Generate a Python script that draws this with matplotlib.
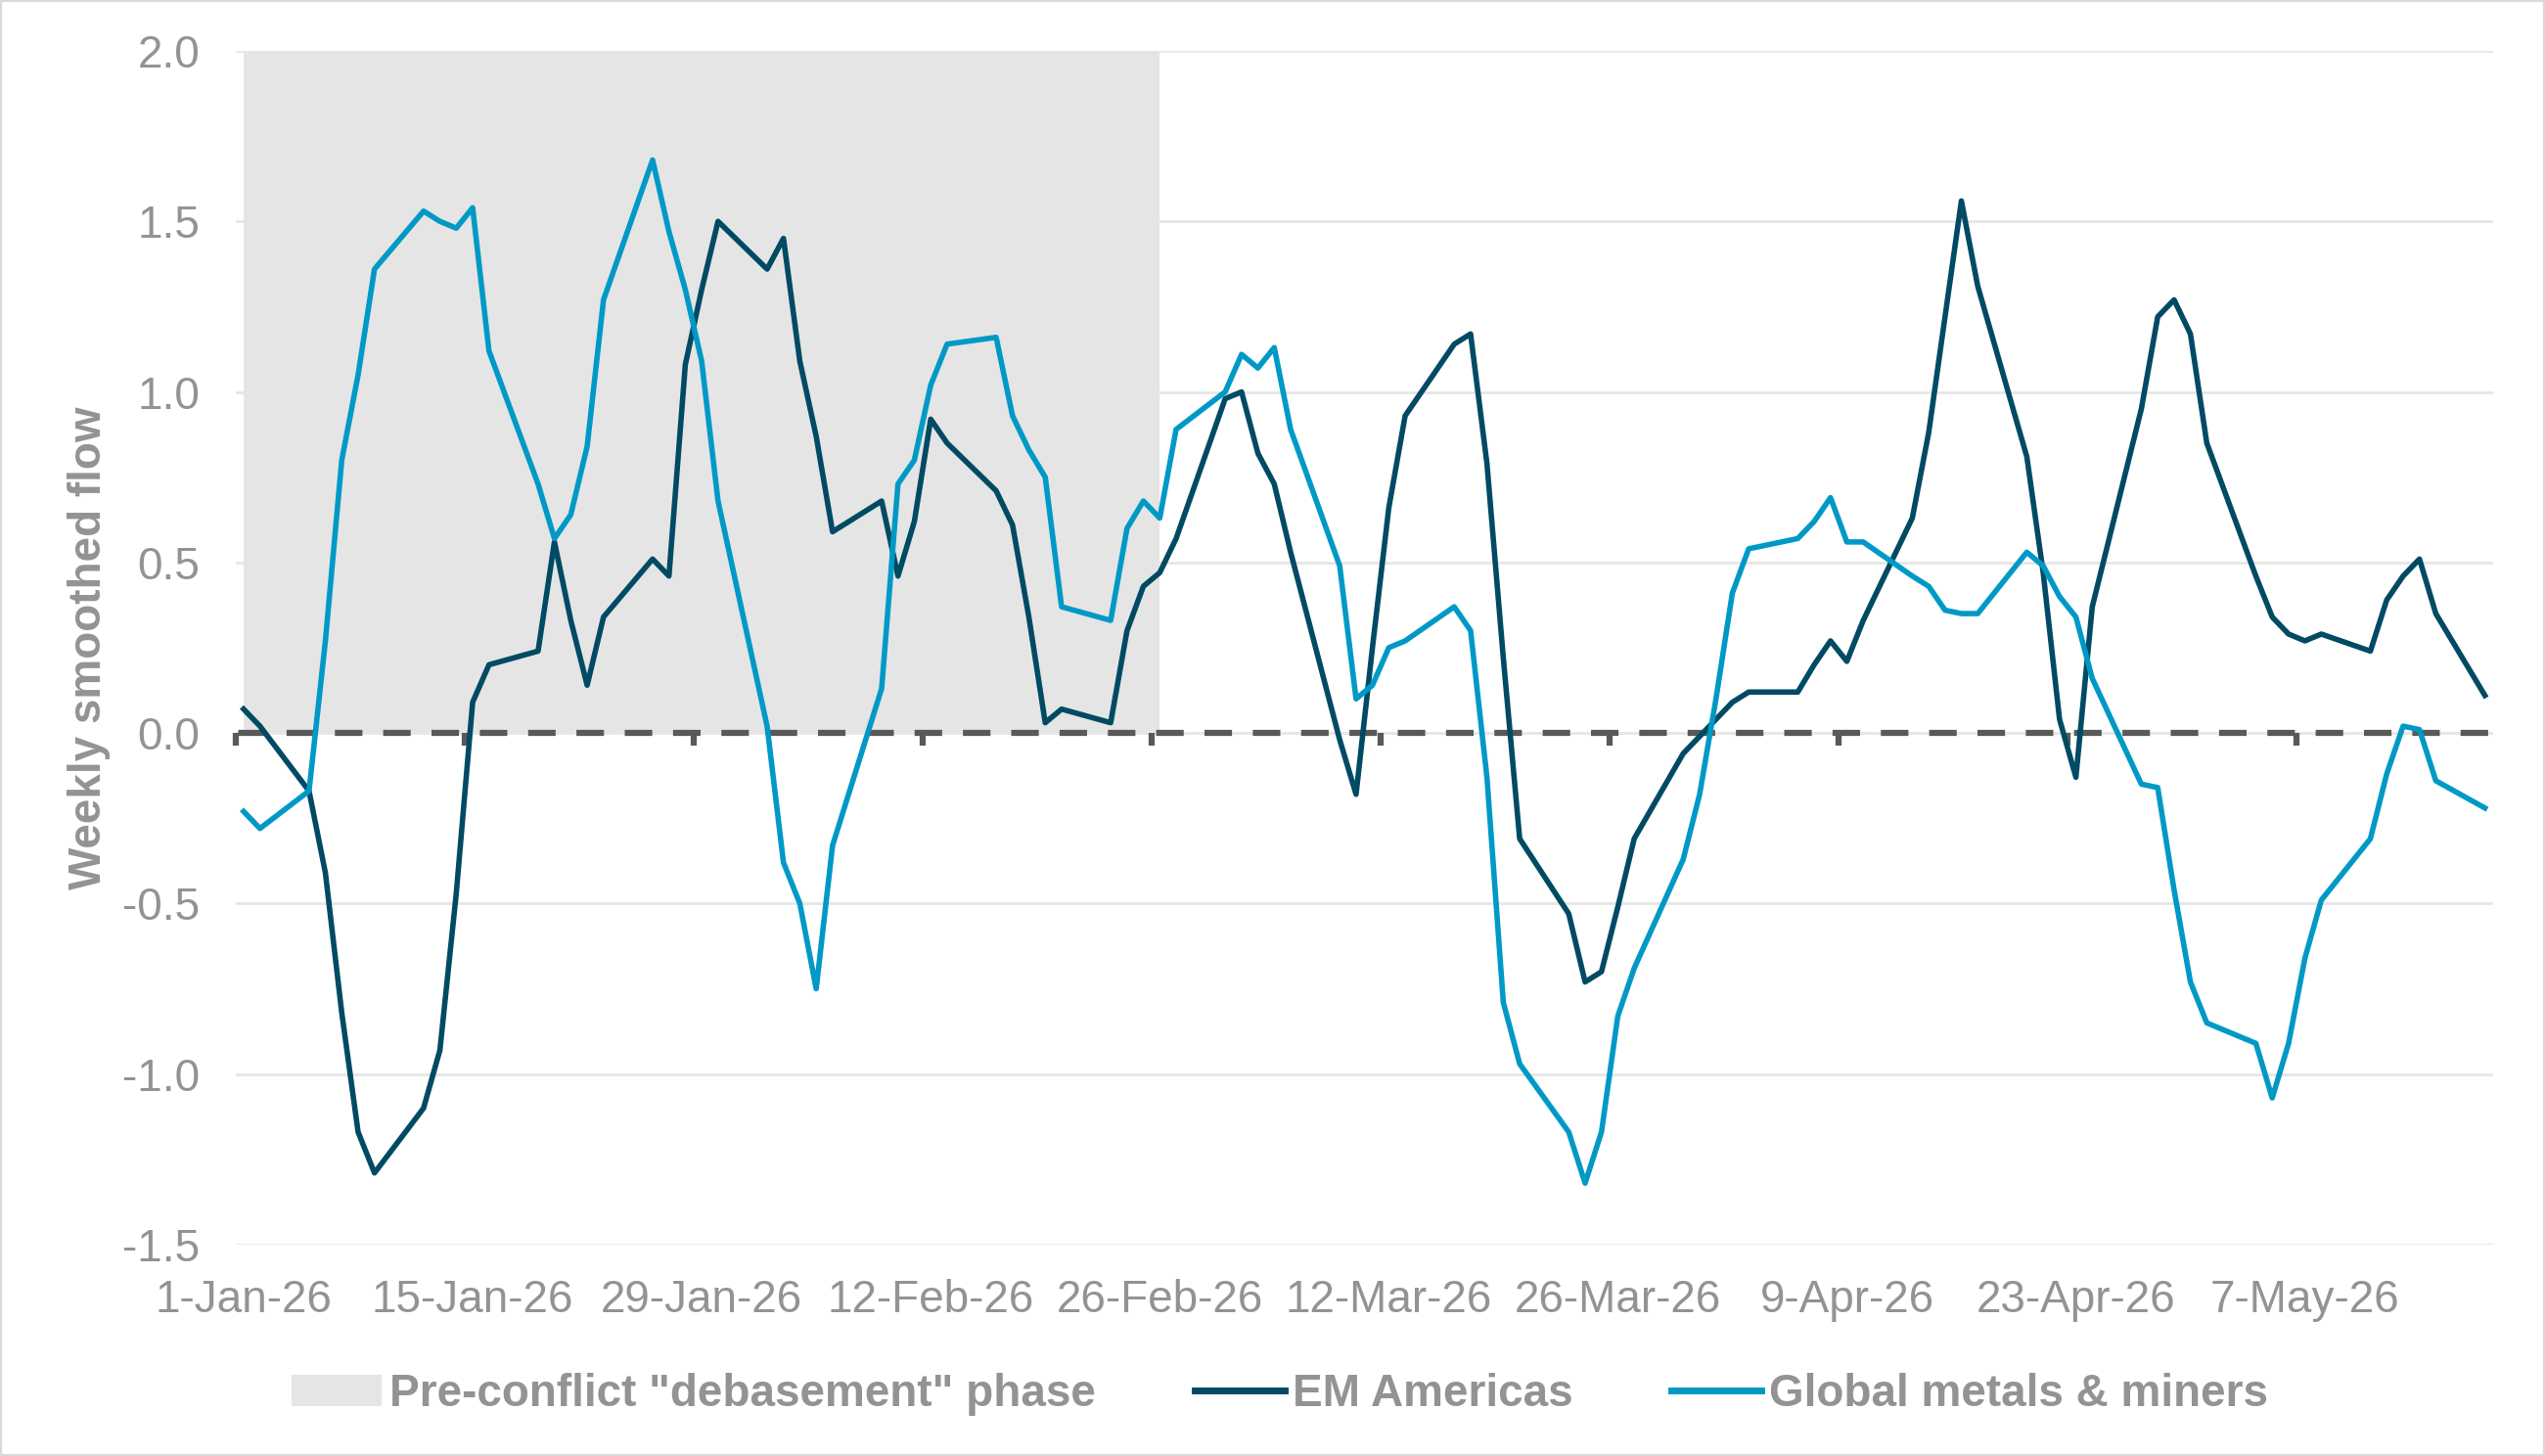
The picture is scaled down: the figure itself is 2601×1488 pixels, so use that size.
import numpy as np
import pandas as pd
import matplotlib
matplotlib.use('Agg')
import matplotlib.pyplot as plt
from matplotlib.patches import Patch, Rectangle
from matplotlib.lines import Line2D

plt.rcParams['font.family'] = ['Liberation Sans', 'DejaVu Sans']
plt.rcParams['axes.unicode_minus'] = False

# business days, 1 Jan - 18 May 2026
dates = pd.bdate_range('2026-01-01', '2026-05-18')

em_americas = [
    # Jan
    0.07, 0.02, -0.17, -0.41, -0.82, -1.17, -1.29, -1.10, -0.93, -0.47, 0.09,
    0.20, 0.24, 0.56, 0.33, 0.14, 0.34, 0.51, 0.46, 1.08, 1.30, 1.50,
    # Feb
    1.36, 1.45, 1.09, 0.87, 0.59, 0.68, 0.46, 0.62, 0.92, 0.85,
    0.71, 0.61, 0.34, 0.03, 0.07, 0.03, 0.30, 0.43, 0.47, 0.57,
    # Mar
    0.98, 1.00, 0.82, 0.73, 0.53, -0.02, -0.18, 0.25, 0.66, 0.93, 1.14,
    1.17, 0.79, 0.22, -0.31, -0.53, -0.73, -0.70, -0.51, -0.31, -0.06, -0.01,
    # Apr
    0.04, 0.09, 0.12, 0.12, 0.20, 0.27, 0.21, 0.33, 0.63, 0.88, 1.22,
    1.56, 1.31, 0.81, 0.47, 0.04, -0.13, 0.37, 0.95, 1.22, 1.27, 1.17,
    # May
    0.85, 0.46, 0.34, 0.29, 0.27, 0.29, 0.24, 0.39, 0.46, 0.51, 0.35, 0.11,
]

metals_miners = [
    # Jan
    -0.23, -0.28, -0.17, 0.27, 0.80, 1.05, 1.36, 1.53, 1.50, 1.48, 1.54,
    1.12, 0.73, 0.57, 0.64, 0.84, 1.27, 1.68, 1.47, 1.30, 1.09, 0.68,
    # Feb
    0.02, -0.38, -0.50, -0.75, -0.33, 0.13, 0.73, 0.80, 1.02, 1.14,
    1.16, 0.93, 0.83, 0.75, 0.37, 0.33, 0.60, 0.68, 0.63, 0.89,
    # Mar
    1.00, 1.11, 1.07, 1.13, 0.89, 0.49, 0.10, 0.14, 0.25, 0.27, 0.37,
    0.30, -0.13, -0.79, -0.97, -1.17, -1.32, -1.17, -0.83, -0.69, -0.37, -0.18,
    # Apr
    0.10, 0.41, 0.54, 0.57, 0.62, 0.69, 0.56, 0.56, 0.46, 0.43, 0.36,
    0.35, 0.35, 0.53, 0.49, 0.40, 0.34, 0.16, -0.15, -0.16, -0.46, -0.73,
    # May
    -0.85, -0.91, -1.07, -0.91, -0.66, -0.49, -0.31, -0.12, 0.02, 0.01, -0.14, -0.22,
]

phase_start = pd.Timestamp('2026-01-01')
phase_end = pd.Timestamp('2026-02-26')
phase_top = 2.0

tick_dates = pd.date_range('2026-01-01', '2026-05-07', freq='14D')
tick_labels = [f"{d.day}-{d:%b-%y}" for d in tick_dates]
y_ticks = [-1.5, -1.0, -0.5, 0.0, 0.5, 1.0, 1.5, 2.0]

dark = '#004A64'
light = '#0099C6'
shade = '#E5E5E5'
grey_txt = '#939393'
axis_grey = '#595959'
fs = 16.5

fig = plt.figure(figsize=(13.005, 7.44), dpi=200)
ax = fig.add_axes([0.0925, 0.1452, 0.8871, 0.8199])

half_day = pd.Timedelta(hours=12)
ax.set_xlim(dates[0] - half_day, dates[-1] + half_day)
ax.set_ylim(-1.5, 2.0)

ax.set_yticks(y_ticks)
ax.set_yticklabels([f"{v:.1f}" for v in y_ticks])
ax.set_xticks(tick_dates)
ax.set_xticklabels(tick_labels)
ax.grid(axis='y', color='#E6E6E6', lw=1.0)
ax.set_axisbelow(True)
for s in ax.spines.values():
    s.set_visible(False)
ax.tick_params(length=0, labelsize=fs, labelcolor=grey_txt)
ax.tick_params(axis='y', pad=13)
ax.tick_params(axis='x', pad=12.5)

# shaded pre-conflict phase
mask = (dates >= phase_start) & (dates <= phase_end)
ax.fill_between(dates[mask], 0, phase_top, color=shade, lw=0, zorder=1.5)

# dashed zero axis with small tick marks between date slots
ax.axhline(0, color=axis_grey, lw=2.25, linestyle=(7.5, (4.5, 3.4)), zorder=2)
ax.plot(tick_dates - half_day, np.zeros(len(tick_dates)), ls='none', marker=3,
        ms=4.5, mew=2.25, color=axis_grey, zorder=2, clip_on=False)

ax.plot(dates, em_americas, color=dark, lw=2.0, zorder=3, solid_joinstyle='round')
ax.plot(dates, metals_miners, color=light, lw=2.0, zorder=4, solid_joinstyle='round')

ax.set_ylabel('Weekly smoothed flow', fontsize=fs, fontweight='bold', color=grey_txt)
ax.yaxis.set_label_coords(-0.0555, 0.5)

handles = [Patch(facecolor=shade, edgecolor='none'),
           Line2D([], [], color=dark, lw=2.5),
           Line2D([], [], color=light, lw=2.5)]
labels = ['Pre-conflict "debasement" phase', 'EM Americas', 'Global metals & miners']
fig.legend(handles, labels, loc='center', bbox_to_anchor=(0.503, 0.0425), ncol=3,
           frameon=False, prop={'size': fs, 'weight': 'bold'}, labelcolor=grey_txt,
           handlelength=2.0, handletextpad=0.18, columnspacing=2.2)

fig.patches.append(Rectangle((0, 0), 1, 1, transform=fig.transFigure, fill=False,
                             edgecolor='#D9D9D9', lw=1.5))

fig.savefig('out.png', dpi=200)
